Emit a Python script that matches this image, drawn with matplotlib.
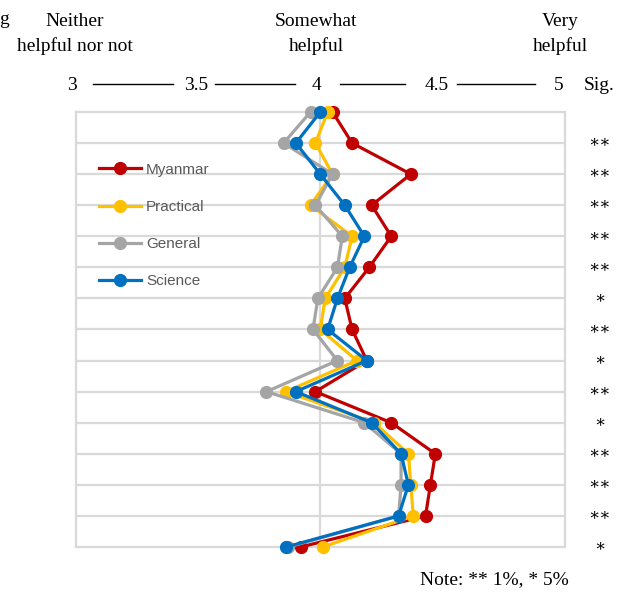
import matplotlib
matplotlib.use("Agg")
import matplotlib.pyplot as plt
from matplotlib.lines import Line2D

# values, top row first
myanmar = [4.05, 4.13, 4.37, 4.21, 4.29, 4.20, 4.10, 4.13, 4.19, 3.98, 4.29, 4.47, 4.45, 4.43, 3.92]
practical = [4.03, 3.98, 4.05, 3.96, 4.13, 4.10, 4.02, 4.00, 4.15, 3.86, 4.22, 4.36, 4.37, 4.38, 4.01]
general = [3.96, 3.85, 4.05, 3.98, 4.09, 4.07, 3.99, 3.97, 4.07, 3.78, 4.18, 4.33, 4.33, 4.32, 3.87]
science = [4.00, 3.90, 4.00, 4.10, 4.18, 4.12, 4.07, 4.03, 4.19, 3.90, 4.21, 4.33, 4.36, 4.32, 3.86]
sig = ["", "**", "**", "**", "**", "**", "*", "**", "*", "**", "*", "**", "**", "**", "*"]

series = [("Myanmar", myanmar, "#C00000"),
          ("Practical", practical, "#FFC000"),
          ("General", general, "#A5A5A5"),
          ("Science", science, "#0070C0")]

scale_ticks = ["3", "3.5", "4", "4.5", "5"]
scale_words = [("Neither\nhelpful nor not", 75), ("Somewhat\nhelpful", 316), ("Very\nhelpful", 560)]

W, H = 623, 594
fig = plt.figure(figsize=(W / 100, H / 100), dpi=100)
serif = "Liberation Serif"
fs = 14

def fx(px):
    return px / W

def fy(py):
    return 1 - py / H

ax = fig.add_axes([fx(75.6), fy(547), (565 - 75.6) / W, (547 - 112) / H])
rows = list(range(len(myanmar)))

for name, vals, col in series:
    ax.plot(vals, rows, color=col, lw=2.3, marker="o", ms=8.5, label=name,
            clip_on=False, zorder=3)

ax.set_xlim(3, 5)
ax.set_ylim(len(rows) - 1, 0)
ax.set_yticks(rows[1:-1])
ax.set_xticks([4])
ax.grid(True, color="#d9d9d9", lw=1.6)
ax.tick_params(length=0, labelleft=False, labelbottom=False)
for s in ax.spines.values():
    s.set_color("#d9d9d9")
    s.set_linewidth(1.6)

leg = ax.legend(loc="upper left", bbox_to_anchor=(fx(91), fy(155)),
                bbox_transform=fig.transFigure, frameon=False, borderpad=0,
                handlelength=2.8, handletextpad=0.3, labelspacing=1.52,
                prop={"family": "Liberation Sans", "size": 11})
for t in leg.get_texts():
    t.set_color("#595959")

# scale header
for label, px in scale_words:
    fig.text(fx(px), fy(34), label, ha="center", va="center", family=serif,
             fontsize=fs, linespacing=1.45)
fig.text(fx(-1), fy(20), "g", ha="left", va="center", family=serif, fontsize=fs)

tick_px = [72, 196, 317, 437, 559]
for lab, px in zip(scale_ticks, tick_px):
    fig.text(fx(px), fy(86), lab, ha="center", va="center", family=serif, fontsize=fs)
fig.text(fx(599), fy(86), "Sig.", ha="center", va="center", family=serif, fontsize=fs)
for x0, x1 in [(93, 173), (215, 295), (340, 405), (457, 535)]:
    fig.add_artist(Line2D([fx(x0), fx(x1)], [fy(84), fy(84)], color="black", lw=1,
                          transform=fig.transFigure))

# significance column
for r, s in zip(rows, sig):
    if s:
        fig.text(fx(600), fy(112 + r * 31.07 - 1), s.replace("*", "\u2217"),
                 ha="center", va="center", family="DejaVu Serif", fontsize=12)

fig.text(fx(494), fy(580), "Note: ** 1%, * 5%", ha="center", va="center",
         family=serif, fontsize=fs)

fig.savefig("out.png", dpi=100)
